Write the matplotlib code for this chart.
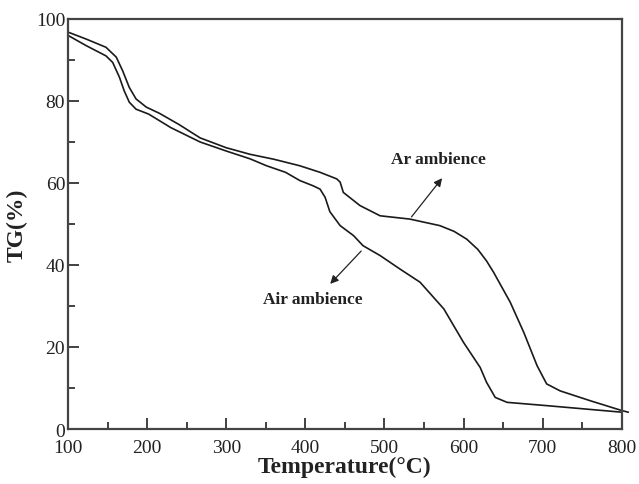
import matplotlib
matplotlib.use("Agg")
import matplotlib.pyplot as plt
from matplotlib.ticker import MultipleLocator

plt.rcParams['font.family'] = ['Liberation Serif', 'DejaVu Serif']

# Ar ambience (upper curve)
ar_temp = [100, 123, 148, 161, 169, 177.5, 186, 199, 215.5, 240, 267, 300, 330, 360, 393, 418.6,
           439.7, 444, 448, 469, 494.5, 532, 570, 588, 604, 618, 629, 638, 659, 676, 693, 705, 722, 760, 800, 808]
ar_tg = [96.8, 95.1, 93.1, 90.7, 87.4, 83.3, 80.5, 78.5, 77.0, 74.3, 71.0, 68.6, 67.0, 65.8, 64.2, 62.6,
         61.0, 60.2, 57.7, 54.5, 52.0, 51.2, 49.6, 48.2, 46.3, 43.8, 41.0, 38.2, 30.9, 23.6, 15.4, 11.0, 9.3, 6.9, 4.5, 4.1]

# Air ambience (lower curve)
air_temp = [100, 123, 148, 156.5, 165, 171, 177.5, 186, 202, 230, 267, 300, 330, 351, 375, 393, 410,
            418.6, 425, 431, 444, 460.7, 473, 494.5, 519.7, 545, 575, 600, 621, 629, 640, 655, 705, 800]
air_tg = [96.0, 93.5, 91.0, 89.4, 85.8, 82.5, 79.7, 78.0, 76.8, 73.5, 70.0, 67.8, 65.9, 64.2, 62.6, 60.6, 59.3,
          58.5, 56.5, 53.0, 49.6, 47.2, 44.7, 42.3, 39.0, 35.8, 29.3, 21.1, 15.0, 11.4, 7.7, 6.5, 5.7, 4.1]

fig = plt.figure(figsize=(6.39, 4.85), dpi=100)
ax = fig.add_axes([0.1064, 0.1134, 0.8667, 0.8454])

ax.plot(ar_temp, ar_tg, color='#1a1a1a', lw=1.2, clip_on=False)
ax.plot(air_temp, air_tg, color='#1a1a1a', lw=1.2, clip_on=False)

ax.set_xlim(100, 800)
ax.set_ylim(0, 100)
ax.xaxis.set_major_locator(MultipleLocator(100))
ax.xaxis.set_minor_locator(MultipleLocator(50))
ax.yaxis.set_major_locator(MultipleLocator(20))
ax.yaxis.set_minor_locator(MultipleLocator(10))
ax.tick_params(which='both', direction='in', top=False, right=False, colors='#333333',
               labelcolor='#222222', labelsize=14, width=1.3)
ax.tick_params(which='major', length=8)
ax.tick_params(which='minor', length=5)
ax.tick_params(axis='x', pad=7)
ax.tick_params(axis='y', pad=2)
for s in ax.spines.values():
    s.set_color('#444444')
    s.set_linewidth(1.6)

ax.set_xlabel('Temperature(°C)', fontsize=17, fontweight='bold', color='#222222', labelpad=0)
ax.set_ylabel('TG(%)', fontsize=17, fontweight='bold', color='#222222', labelpad=6)

ax.annotate('', xy=(575, 61.7), xytext=(532, 51.2),
            arrowprops=dict(arrowstyle='-|>', color='#222222', lw=0.9, mutation_scale=12))
ax.text(568, 65.8, 'Ar ambience', ha='center', va='center', fontsize=12.5,
        fontweight='bold', color='#222222')
ax.annotate('', xy=(429, 34.9), xytext=(473, 43.9),
            arrowprops=dict(arrowstyle='-|>', color='#222222', lw=0.9, mutation_scale=12))
ax.text(410, 31.7, 'Air ambience', ha='center', va='center', fontsize=12.5,
        fontweight='bold', color='#222222')

fig.savefig('out.png', dpi=100)
